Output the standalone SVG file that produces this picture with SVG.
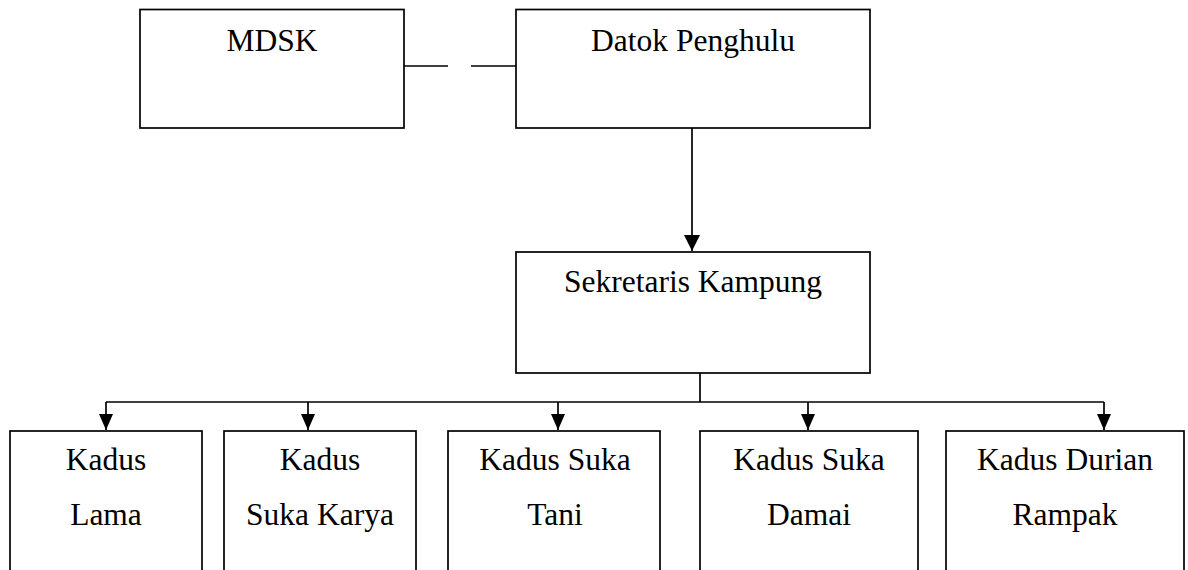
<svg xmlns="http://www.w3.org/2000/svg" width="1188" height="570" viewBox="0 0 1188 570">
<defs>
<style>
.box{fill:#fff;stroke:#000;stroke-width:1.7}
.ln{fill:none;stroke:#000;stroke-width:1.7}
.t{font-family:"Liberation Serif","Times New Roman",serif;font-size:31.5px;fill:#000;text-anchor:middle}
</style>
<marker id="ah" markerUnits="userSpaceOnUse" markerWidth="16" markerHeight="16" viewBox="0 0 16 16" refX="16" refY="8" orient="auto">
<path d="M0,0 L16,8 L0,16 Z" fill="#000"/>
</marker>
<marker id="ahs" markerUnits="userSpaceOnUse" markerWidth="16" markerHeight="14" viewBox="0 0 16 14" refX="16" refY="7" orient="auto">
<path d="M0,0 L16,7 L0,14 Z" fill="#000"/>
</marker>
</defs>
<rect width="1188" height="570" fill="#fff"/>
<g id="connectors">
<line class="ln" x1="404" y1="66" x2="448" y2="66"/>
<line class="ln" x1="471" y1="66" x2="516" y2="66"/>
<line class="ln" x1="692" y1="128" x2="692" y2="251" marker-end="url(#ah)"/>
<line class="ln" x1="700" y1="373" x2="700" y2="402"/>
<line class="ln" x1="106" y1="402" x2="1104" y2="402"/>
<line class="ln" x1="106" y1="402" x2="106" y2="430" marker-end="url(#ahs)"/>
<line class="ln" x1="308" y1="402" x2="308" y2="430" marker-end="url(#ahs)"/>
<line class="ln" x1="558" y1="402" x2="558" y2="430" marker-end="url(#ahs)"/>
<line class="ln" x1="808" y1="402" x2="808" y2="430" marker-end="url(#ahs)"/>
<line class="ln" x1="1104" y1="402" x2="1104" y2="430" marker-end="url(#ahs)"/>
</g>
<g id="mdsk">
<rect class="box" x="140" y="9.5" width="264" height="118.5"/>
<text class="t" x="272" y="51">MDSK</text>
</g>
<g id="datok">
<rect class="box" x="516" y="9.5" width="354" height="118.5"/>
<text class="t" x="693" y="51">Datok Penghulu</text>
</g>
<g id="sekretaris">
<rect class="box" x="516" y="252" width="354" height="121"/>
<text class="t" x="693" y="292">Sekretaris Kampung</text>
</g>
<g id="kadus-lama">
<rect class="box" x="10" y="431" width="192" height="150"/>
<text class="t" x="106" y="470">Kadus</text>
<text class="t" x="106" y="525">Lama</text>
</g>
<g id="kadus-suka-karya">
<rect class="box" x="224" y="431" width="192" height="150"/>
<text class="t" x="320" y="470">Kadus</text>
<text class="t" x="320" y="525">Suka Karya</text>
</g>
<g id="kadus-suka-tani">
<rect class="box" x="448" y="431" width="212" height="150"/>
<text class="t" x="555" y="470">Kadus Suka</text>
<text class="t" x="555" y="525">Tani</text>
</g>
<g id="kadus-suka-damai">
<rect class="box" x="700" y="431" width="218" height="150"/>
<text class="t" x="809" y="470">Kadus Suka</text>
<text class="t" x="809" y="525">Damai</text>
</g>
<g id="kadus-durian-rampak">
<rect class="box" x="946" y="431" width="238" height="150"/>
<text class="t" x="1065" y="470">Kadus Durian</text>
<text class="t" x="1065" y="525">Rampak</text>
</g>
</svg>
